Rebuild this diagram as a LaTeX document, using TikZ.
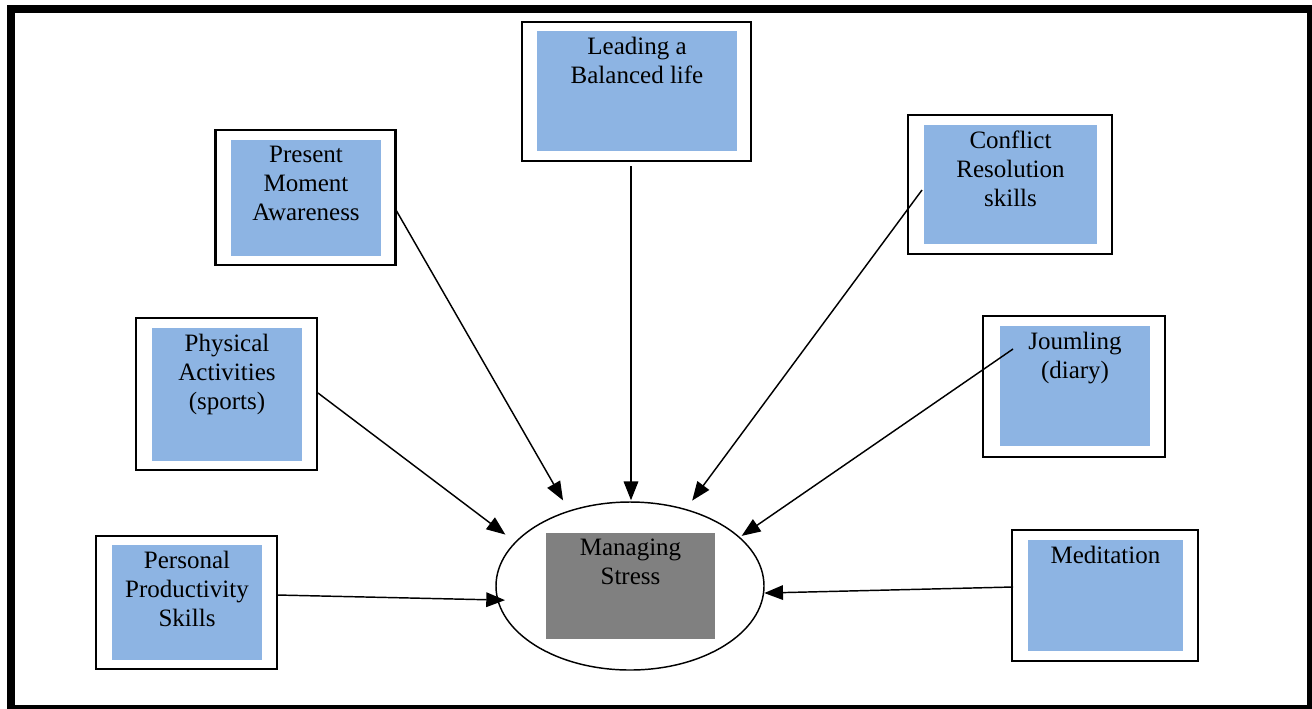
\documentclass[tikz,border=0pt]{standalone}
\usepackage{fontspec}
\setmainfont{Liberation Serif}
\usetikzlibrary{arrows.meta,shapes.geometric}

\newcommand{\pxu}{0.48pt}
\definecolor{topicblue}{RGB}{141,180,227}
\definecolor{coregray}{RGB}{128,128,128}
\tikzset{
  outbox/.style={draw, line width=1pt, fill=white, inner sep=0pt},
  topic/.style={fill=topicblue, inner sep=0pt},
  core/.style={fill=coregray, inner sep=0pt},
  lbl/.style={anchor=north, align=center, inner sep=3pt,
    font=\fontsize{12}{13.9}\selectfont},
  link/.style={line width=0.7pt, -{Triangle[length=9pt,width=7pt]}}
}

\begin{document}
\begin{tikzpicture}[x=\pxu, y=-\pxu]
    \useasboundingbox (0,0) rectangle (1312,708);
    \draw[line width=8*\pxu] (11,9) rectangle (1311,709);

    % topic boxes
    \node[outbox, minimum width=229*\pxu, minimum height=139*\pxu] (lead) at (636.5,91.5) {};
    \node[topic, minimum width=200*\pxu, minimum height=120*\pxu] (lead-in) at (637,91) {};
    \node[lbl] (lead-t) at (lead-in.north) {Leading a\\Balanced life};

    \node[outbox, minimum width=180*\pxu, minimum height=135*\pxu] (pma) at (305.5,197.5) {};
    \node[topic, minimum width=150*\pxu, minimum height=116*\pxu] (pma-in) at (306,198) {};
    \node[lbl] (pma-t) at (pma-in.north) {Present\\Moment\\Awareness};

    \node[outbox, minimum width=204*\pxu, minimum height=139*\pxu] (crs) at (1010,184.5) {};
    \node[topic, minimum width=173*\pxu, minimum height=119*\pxu] (crs-in) at (1010.5,184.5) {};
    \node[lbl] (crs-t) at (crs-in.north) {Conflict\\Resolution\\skills};

    \node[outbox, minimum width=181*\pxu, minimum height=152*\pxu] (pa) at (226.5,394) {};
    \node[topic, minimum width=150*\pxu, minimum height=133*\pxu] (pa-in) at (227,394.5) {};
    \node[lbl] (pa-t) at (pa-in.north) {Physical\\Activities\\(sports)};

    \node[outbox, minimum width=182*\pxu, minimum height=141*\pxu] (jd) at (1074,386.5) {};
    \node[topic, minimum width=150*\pxu, minimum height=120*\pxu] (jd-in) at (1075,386) {};
    \node[lbl] (jd-t) at (jd-in.north) {Joumling\\(diary)};

    \node[outbox, minimum width=181*\pxu, minimum height=133*\pxu] (pps) at (186.5,602.5) {};
    \node[topic, minimum width=150*\pxu, minimum height=115*\pxu] (pps-in) at (187,602.5) {};
    \node[lbl] (pps-t) at (pps-in.north) {Personal\\Productivity\\Skills};

    \node[outbox, minimum width=186*\pxu, minimum height=131*\pxu] (med) at (1105,595.5) {};
    \node[topic, minimum width=155*\pxu, minimum height=111*\pxu] (med-in) at (1105.5,595.5) {};
    \node[lbl] (med-t) at (med-in.north) {Meditation};

    % centre
    \node[draw, ellipse, line width=0.7pt, inner sep=0pt,
          minimum width=268*\pxu, minimum height=168*\pxu] (ms) at (630,586) {};
    \node[core, minimum width=169*\pxu, minimum height=106*\pxu] (ms-in) at (630.5,586) {};
    \node[lbl] (ms-t) at (ms-in.north) {Managing\\Stress};

    % arrow starts
    \coordinate (lead-s) at (631,166);
    \coordinate (pma-s) at (396,210);
    \coordinate (crs-s) at (922,190);
    \coordinate (pa-s) at (318,393);
    \coordinate (jd-s) at (1013,349);
    \coordinate (pps-s) at (277,595);
    \coordinate (med-s) at (1013,587);

    \draw[link, shorten >=0.5pt] (lead-s) -- (lead-s |- ms.north);
    \draw[link, shorten >=5.6pt] (pma-s) -- (ms.129);
    \draw[link, shorten >=5pt] (crs-s) -- (ms.54);
    \draw[link, shorten >=5.8pt] (pa-s) -- (ms.159);
    \draw[link, shorten >=1pt] (jd-s) -- (ms.24.7);
    \draw[link, shorten >=-3.8pt] (pps-s) -- (ms.186);
    \draw[link] (med-s) -- (ms.-3);
\end{tikzpicture}
\end{document}
